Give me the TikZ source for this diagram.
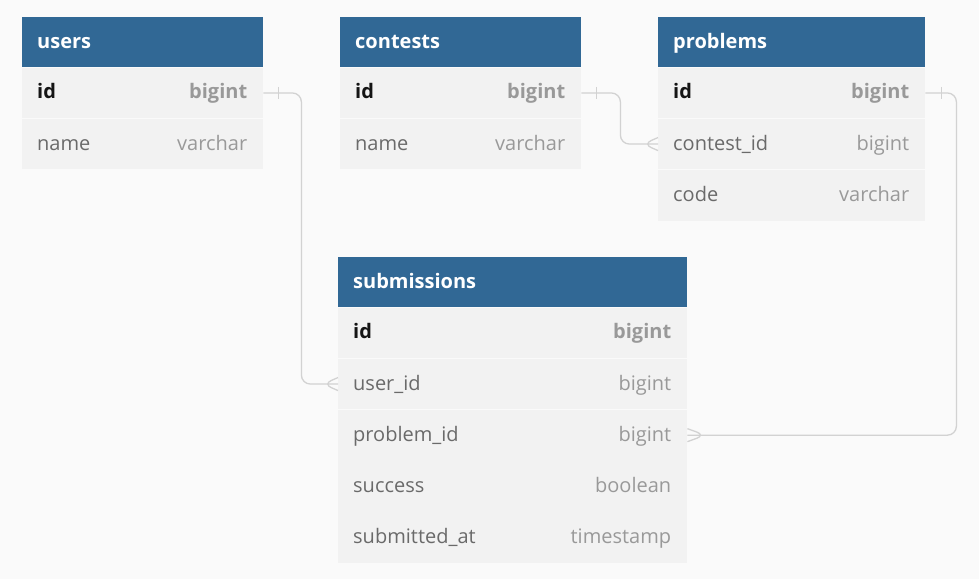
\documentclass[tikz,border=0pt]{standalone}
\usepackage{fontspec}
\setmainfont{Open Sans}
\usetikzlibrary{positioning}

\definecolor{HeadBlue}{HTML}{316895}
\definecolor{RowGray}{HTML}{F2F2F2}
\definecolor{PageGray}{HTML}{FAFAFA}
\definecolor{LinkGray}{HTML}{D2D2D2}
\definecolor{NameGray}{HTML}{6A6A6A}
\definecolor{TypeGray}{HTML}{999999}
\definecolor{KeyBlack}{HTML}{151515}

\newcommand{\rowsize}{\fontsize{20}{24}\selectfont}

\tikzset{
  tab/.style={inner xsep=15pt, inner ysep=0pt, align=left, text height=15.5pt, text depth=3.5pt},
  head/.style={tab, fill=HeadBlue, text=white, font=\bfseries\rowsize, text width=#1, minimum height=50pt},
  field/.style={tab, fill=RowGray, text=NameGray, font=\rowsize, text width=#1, minimum height=50.7pt},
  pkey/.style={field=#1, text=KeyBlack, font=\bfseries\rowsize},
  ftype/.style={anchor=east, xshift=-16pt, inner sep=0pt, text height=15.5pt, text depth=3.5pt, text=TypeGray, font=\rowsize},
  ptype/.style={ftype, font=\bfseries\rowsize},
  link/.style={draw=LinkGray, line width=1.3pt, rounded corners=9pt},
}

\begin{document}
\begin{tikzpicture}[x=1pt, y=-1pt]
    \useasboundingbox[fill=PageGray] (0,0) rectangle (979,579);

    % users
    \node[head=211pt, anchor=north west] (users) at (22,17) {users};
    \node[pkey=211pt, below=0pt of users, label={[ptype]east:bigint}] (users-id) {id};
    \node[field=211pt, below=0pt of users-id, label={[ftype]east:varchar}] (users-name) {name};

    % contests
    \node[head=211pt, anchor=north west] (contests) at (340,17) {contests};
    \node[pkey=211pt, below=0pt of contests, label={[ptype]east:bigint}] (cont-id) {id};
    \node[field=211pt, below=0pt of cont-id, label={[ftype]east:varchar}] (cont-name) {name};

    % problems
    \node[head=237pt, anchor=north west] (problems) at (658,17) {problems};
    \node[pkey=237pt, below=0pt of problems, label={[ptype]east:bigint}] (prob-id) {id};
    \node[field=237pt, below=0pt of prob-id, label={[ftype]east:bigint}] (prob-cid) {contest\_id};
    \node[field=237pt, below=0pt of prob-cid, label={[ftype]east:varchar}] (prob-code) {code};

    % submissions
    \node[head=319pt, anchor=north west] (subs) at (338,257) {submissions};
    \node[pkey=319pt, below=0pt of subs, label={[ptype]east:bigint}] (sub-id) {id};
    \node[field=319pt, below=0pt of sub-id, label={[ftype]east:bigint}] (sub-user) {user\_id};
    \node[field=319pt, below=0pt of sub-user, label={[ftype]east:bigint}] (sub-prob) {problem\_id};
    \node[field=319pt, below=0pt of sub-prob, label={[ftype]east:boolean}] (sub-ok) {success};
    \node[field=319pt, below=0pt of sub-ok, label={[ftype]east:timestamp}] (sub-at) {submitted\_at};

    % relations
    \draw[link] (users-id.east) -- ++(38,0) |- (sub-user.west);
    \draw[link] (cont-id.east) -- ++(39,0) |- (prob-cid.west);
    \draw[link] (prob-id.east) -- ++(31,0) |- (sub-prob.east);

    % one side
    \draw[link] ([xshift=15pt, yshift=6pt]users-id.east) -- ([xshift=15pt, yshift=-6pt]users-id.east);
    \draw[link] ([xshift=15pt, yshift=6pt]cont-id.east) -- ([xshift=15pt, yshift=-6pt]cont-id.east);
    \draw[link] ([xshift=16pt, yshift=6pt]prob-id.east) -- ([xshift=16pt, yshift=-6pt]prob-id.east);

    % many side
    \draw[link] ([yshift=6.5pt]sub-user.west) -- ([xshift=-15pt]sub-user.west) -- ([yshift=-6.5pt]sub-user.west);
    \draw[link] ([yshift=6.5pt]prob-cid.west) -- ([xshift=-15pt]prob-cid.west) -- ([yshift=-6.5pt]prob-cid.west);
    \draw[link] ([yshift=6.5pt]sub-prob.east) -- ([xshift=18pt]sub-prob.east) -- ([yshift=-6.5pt]sub-prob.east);
    \end{tikzpicture}
\end{document}
